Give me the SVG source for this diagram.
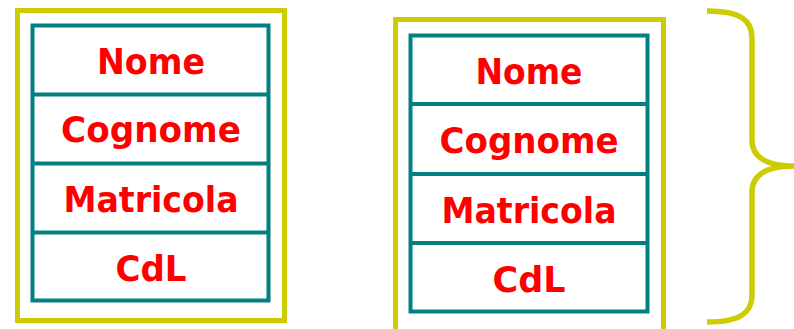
<svg xmlns="http://www.w3.org/2000/svg" width="794" height="329" viewBox="0 0 794 329">
<style>
.outer{fill:none;stroke:#CCCC00;stroke-width:5}
.inner{fill:#fff;stroke:#008080;stroke-width:4}
.div{stroke:#008080;stroke-width:4}
.t{font-family:"DejaVu Sans",Verdana,sans-serif;font-weight:bold;font-size:36px;fill:#FF0000;text-anchor:middle}
.brace{fill:none;stroke:#CCCC00;stroke-width:5.5}
</style>
<rect width="794" height="329" fill="#fff"/>
<g id="entity1">
<rect class="outer" x="17.5" y="10.5" width="267" height="310"/>
<rect class="inner" x="32.5" y="25.5" width="236" height="275"/>
<line class="div" x1="32.5" y1="94.5" x2="268.5" y2="94.5"/>
<line class="div" x1="32.5" y1="163.5" x2="268.5" y2="163.5"/>
<line class="div" x1="32.5" y1="232.5" x2="268.5" y2="232.5"/>
<text class="t" x="151" y="74" textLength="108" lengthAdjust="spacingAndGlyphs">Nome</text>
<text class="t" x="151" y="142" textLength="180" lengthAdjust="spacingAndGlyphs">Cognome</text>
<text class="t" x="151" y="212" textLength="175" lengthAdjust="spacingAndGlyphs">Matricola</text>
<text class="t" x="151" y="281" textLength="71" lengthAdjust="spacingAndGlyphs">CdL</text>
</g>
<g id="entity2">
<rect class="outer" x="395.5" y="19.5" width="268" height="330"/>
<rect class="inner" x="410.5" y="35.5" width="237" height="276"/>
<line class="div" x1="410.5" y1="104" x2="647.5" y2="104"/>
<line class="div" x1="410.5" y1="174" x2="647.5" y2="174"/>
<line class="div" x1="410.5" y1="243" x2="647.5" y2="243"/>
<text class="t" x="529" y="84" textLength="107" lengthAdjust="spacingAndGlyphs">Nome</text>
<text class="t" x="529" y="153" textLength="179" lengthAdjust="spacingAndGlyphs">Cognome</text>
<text class="t" x="529" y="223" textLength="175" lengthAdjust="spacingAndGlyphs">Matricola</text>
<text class="t" x="529" y="292" textLength="73" lengthAdjust="spacingAndGlyphs">CdL</text>
</g>
<g id="connectors">
<path class="brace" d="M707,11 C740,11 752,20 752,38 L752,140 C752,158 768,166 794,166 C768,166 752,174 752,192 L752,295 C752,313 740,322 707,322"/>
</g>
</svg>
